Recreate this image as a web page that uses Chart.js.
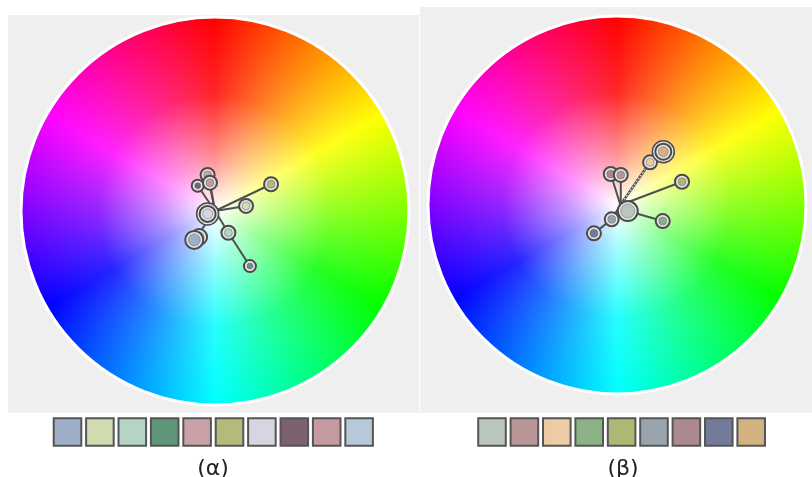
<!DOCTYPE html>
<html>
<head>
<meta charset="utf-8">
<script src="https://cdn.jsdelivr.net/npm/chart.js@4.4.0/dist/chart.umd.min.js"></script>
<style>
  html, body { margin: 0; padding: 0; background: #fff; }
  #stage { position: relative; width: 812px; height: 477px; overflow: hidden; }
  .panel { position: absolute; background: #efefef; }
  canvas { position: absolute; top: 0; }
  .cap {
    position: absolute; transform: translate(-50%, -50%);
    font-family: "DejaVu Sans", sans-serif; font-size: 22px; color: #222;
    white-space: nowrap;
  }
</style>
</head>
<body>
<div id="stage">
  <div class="panel" style="left:8px;top:15px;width:411px;height:398px"></div>
  <div class="panel" style="left:420px;top:7px;width:392px;height:406px"></div>
  <canvas id="wheelA" width="419" height="477" style="left:0"></canvas>
  <canvas id="wheelB" width="393" height="477" style="left:419px"></canvas>
  <div class="cap" style="left:213px;top:467px">(α)</div>
  <div class="cap" style="left:623px;top:467px">(β)</div>
</div>

<script>
// ---- Palette α: colours, positions on the hue/saturation wheel (unit radius) ----
const alphaColors = ['#9eaec8', '#d2dcb2', '#b6d4c4', '#5e9478', '#c8a2a6',
                     '#b4ba7a', '#d6d6e2', '#7c6270', '#c49aa0', '#b6c8da'];
const alphaX = [-0.107, 0.160, 0.069, 0.180, -0.038, 0.289, -0.038, -0.089, -0.026, -0.082];
const alphaY = [-0.149, 0.026, -0.112, -0.284, 0.186, 0.138, -0.015, 0.130, 0.146, -0.134];
const alphaWeight = [9, 7, 7, 6, 7, 7, 8, 6, 7, 8];
const alphaHub = [0, 0];
// links: -1 is the hub
const alphaLinks = [[-1, 4], [-1, 7], [-1, 8], [-1, 5], [-1, 1], [-1, 2], [2, 3], [-1, 0]];
const alphaDashedLinks = [];
const alphaAnchors = [6];
const alphaStack = [9, 0, 3, 2, 1, 5, 4, 7, 8, 6];

// ---- Palette β ----
const betaColors = ['#b8c6bc', '#b89696', '#eccca4', '#8ab284', '#acb874',
                    '#9aa4ae', '#ac8890', '#727c9a', '#d2b280'];
const betaX = [0.057, 0.020, 0.175, 0.242, 0.344, -0.028, -0.033, -0.122, 0.245];
const betaY = [-0.032, 0.159, 0.226, -0.085, 0.123, -0.076, 0.164, -0.150, 0.282];
const betaWeight = [10, 7, 7, 7, 7, 7, 7, 7, 8];
const betaHub = [0.018, 0.0];
const betaLinks = [[-1, 1], [-1, 6], [-1, 4], [0, 3], [-1, 5], [5, 7]];
const betaDashedLinks = [[-1, 2], [2, 8]];
const betaAnchors = [8];
const betaStack = [7, 5, 3, 4, 6, 1, 2, 8, 0];

// Hue wheel: red at the top, hues run clockwise, white in the middle.
const wheelPlugin = {
  id: 'hueWheel',
  beforeDatasetsDraw(chart) {
    const { ctx, scales: { x, y } } = chart;
    const cx = x.getPixelForValue(0), cy = y.getPixelForValue(0);
    const R = x.getPixelForValue(1) - cx;
    ctx.save();
    ctx.beginPath();
    ctx.arc(cx, cy, R, 0, Math.PI * 2);
    ctx.closePath();
    const cg = ctx.createConicGradient(-Math.PI / 2, cx, cy);
    ['#ff0000', '#ffff00', '#00ff00', '#00ffff', '#0000ff', '#ff00ff', '#ff0000']
      .forEach((c, i) => cg.addColorStop(i / 6, c));
    ctx.fillStyle = cg;
    ctx.fill();
    const rg = ctx.createRadialGradient(cx, cy, 0, cx, cy, R);
    rg.addColorStop(0, 'rgba(255,255,255,1)');
    rg.addColorStop(0.25, 'rgba(255,255,255,0.6)');
    rg.addColorStop(0.6, 'rgba(255,255,255,0.15)');
    rg.addColorStop(1, 'rgba(255,255,255,0)');
    ctx.fillStyle = rg;
    ctx.fill();
    ctx.lineWidth = 3;
    ctx.strokeStyle = '#ffffff';
    ctx.stroke();
    ctx.restore();
  }
};

function buildWheel(canvasId, p, frame) {
  const pt = i => (i < 0 ? { x: p.hub[0], y: p.hub[1] } : { x: p.xs[i], y: p.ys[i] });
  const datasets = [];

  p.links.forEach(([a, b]) => datasets.push({
    data: [pt(a), pt(b)], showLine: true, borderColor: '#505050', borderWidth: 2,
    pointRadius: 0, order: 200
  }));
  p.dashed.forEach(([a, b]) => {
    datasets.push({
      data: [pt(a), pt(b)], showLine: true, borderColor: '#505050', borderWidth: 2.5,
      pointRadius: 0, order: 199
    });
    datasets.push({
      data: [pt(a), pt(b)], showLine: true, borderColor: '#f4f4f4', borderWidth: 1.2,
      borderDash: [1.5, 2], pointRadius: 0, order: 198
    });
  });

  p.stack.forEach((i, k) => {
    const base = 150 - k * 4;
    if (p.anchors.includes(i)) {
      datasets.push({
        data: [pt(i)], pointRadius: p.w[i] + 3, backgroundColor: '#e4e4e4',
        borderColor: '#4a4a4a', borderWidth: 1.5, order: base
      });
    }
    datasets.push({
      data: [pt(i)], pointRadius: p.w[i], backgroundColor: '#e6e6e6',
      borderColor: '#4a4a4a', borderWidth: 2, order: base - 1
    });
    datasets.push({
      data: [pt(i)], pointRadius: p.w[i] - 3, backgroundColor: p.colors[i],
      borderColor: 'rgba(90,90,90,0.45)', borderWidth: 1, order: base - 2
    });
  });

  // swatch row
  datasets.push({
    data: p.colors.map((c, i) => ({ x: i, y: 0 })), xAxisID: 'xs', yAxisID: 'ys',
    pointStyle: 'rect', pointRadius: 19.5, backgroundColor: p.colors,
    borderColor: '#555555', borderWidth: 2, order: 1
  });

  const { W, H, cx, cy, R, s0, pitch, rowY } = frame;
  return new Chart(document.getElementById(canvasId), {
    type: 'scatter',
    data: { datasets },
    options: {
      responsive: false, animation: false, events: [],
      layout: { padding: 0, autoPadding: false },
      plugins: { legend: { display: false }, tooltip: { enabled: false } },
      scales: {
        x: { type: 'linear', display: false, min: -cx / R, max: (W - cx) / R },
        y: { type: 'linear', display: false, min: -(H - cy) / R, max: cy / R },
        xs: { type: 'linear', position: 'bottom', display: false, min: -s0 / pitch, max: (W - s0) / pitch },
        ys: { type: 'linear', position: 'left', display: false, min: -(H - rowY), max: rowY }
      }
    },
    plugins: [wheelPlugin]
  });
}

buildWheel('wheelA', {
  colors: alphaColors, xs: alphaX, ys: alphaY, w: alphaWeight, hub: alphaHub,
  links: alphaLinks, dashed: alphaDashedLinks, anchors: alphaAnchors, stack: alphaStack
}, { W: 419, H: 477, cx: 215, cy: 211, R: 194, s0: 67.5, pitch: 32.4, rowY: 432 });

buildWheel('wheelB', {
  colors: betaColors, xs: betaX, ys: betaY, w: betaWeight, hub: betaHub,
  links: betaLinks, dashed: betaDashedLinks, anchors: betaAnchors, stack: betaStack
}, { W: 393, H: 477, cx: 198, cy: 205, R: 189, s0: 73, pitch: 32.4, rowY: 432 });
</script>
</body>
</html>
